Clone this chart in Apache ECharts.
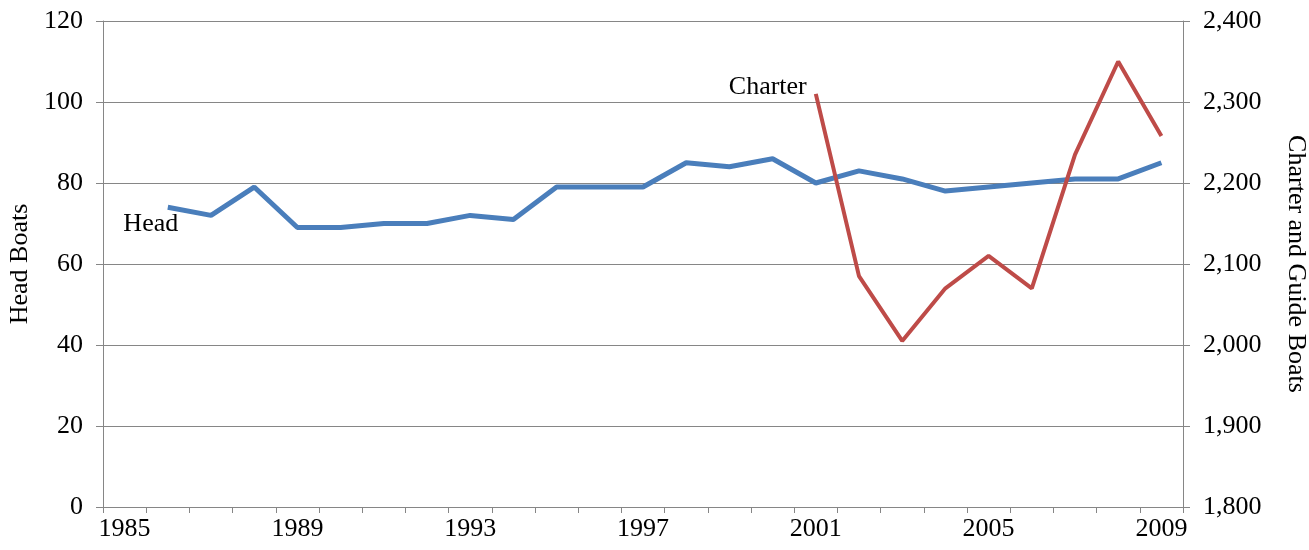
<!DOCTYPE html>
<html>
<head>
<meta charset="utf-8">
<script src="https://cdn.jsdelivr.net/npm/echarts@6/dist/echarts.min.js"></script>
<style>
  html, body { margin: 0; padding: 0; background: #fff; }
  #chart { width: 1309px; height: 550px; }
</style>
</head>
<body>
<div id="chart"></div>
<script>
const years = ["1985", "1986", "1987", "1988", "1989", "1990", "1991", "1992", "1993",
  "1994", "1995", "1996", "1997", "1998", "1999", "2000", "2001", "2002", "2003",
  "2004", "2005", "2006", "2007", "2008", "2009"];

// head boats (left axis)
const headBoats = [null, 74, 72, 79, 69, 69, 70, 70, 72, 71, 79, 79, 79, 85, 84, 86,
  80, 83, 81, 78, 79, 80, 81, 81, 85];

// charter and guide boats (right axis)
const charterBoats = [null, null, null, null, null, null, null, null, null, null, null,
  null, null, null, null, null, 2310, 2085, 2005, 2070, 2110, 2070, 2235, 2350, 2258];

const gray = "#868686";
const font = "Liberation Serif";
const fs = 26;

const chart = echarts.init(document.getElementById("chart"));

// invisible point carrying a series name label
function tag(text, offset) {
  return {
    symbol: "circle",
    symbolSize: 2,
    itemStyle: { color: "rgba(0,0,0,0)" },
    label: {
      show: true,
      position: "inside",
      formatter: text,
      color: "#000",
      fontSize: fs,
      fontFamily: font,
      offset: offset,
    },
  };
}

chart.setOption({
  animation: false,
  textStyle: { fontFamily: font },
  grid: { left: 103, right: 126, top: 21, bottom: 43, outerBoundsMode: "none" },
  xAxis: {
    type: "category",
    data: years,
    boundaryGap: true,
    axisLine: { lineStyle: { color: gray, width: 1 } },
    axisTick: { show: true, interval: 0, length: 6, lineStyle: { color: gray } },
    axisLabel: { interval: 3, color: "#000", fontSize: fs, fontFamily: font, margin: 9 },
    splitLine: { show: false },
  },
  yAxis: [
    {
      type: "value",
      min: 0,
      max: 120,
      interval: 20,
      name: "Head Boats",
      nameLocation: "middle",
      nameGap: 62,
      nameRotate: 90,
      nameTextStyle: { color: "#000", fontSize: fs, fontFamily: font },
      axisLine: { show: true, lineStyle: { color: gray } },
      axisTick: { show: true, length: 7, lineStyle: { color: gray } },
      axisLabel: { color: "#000", fontSize: fs, fontFamily: font, margin: 20 },
      splitLine: { lineStyle: { color: gray, width: 1 } },
    },
    {
      type: "value",
      min: 1800,
      max: 2400,
      interval: 100,
      position: "right",
      name: "Charter and Guide Boats",
      nameLocation: "middle",
      nameGap: 100,
      nameRotate: -90,
      nameTextStyle: { color: "#000", fontSize: fs, fontFamily: font },
      axisLine: { show: true, lineStyle: { color: gray } },
      axisTick: { show: true, length: 7, lineStyle: { color: gray } },
      axisLabel: {
        color: "#000",
        fontSize: fs,
        fontFamily: font,
        margin: 20,
        formatter: (v) => v.toLocaleString("en-US"),
      },
      splitLine: { show: false },
    },
  ],
  series: [
    {
      name: "Head",
      type: "line",
      yAxisIndex: 0,
      data: headBoats,
      showSymbol: false,
      symbol: "none",
      lineStyle: { color: "#4A7EBB", width: 5 },
      markPoint: Object.assign(tag("Head", [-17, 17]), {
        data: [{ coord: ["1986", headBoats[1]] }],
      }),
    },
    {
      name: "Charter",
      type: "line",
      yAxisIndex: 1,
      data: charterBoats,
      showSymbol: false,
      symbol: "none",
      lineStyle: { color: "#BE4B48", width: 4 },
      markPoint: Object.assign(tag("Charter", [-48, -7]), {
        data: [{ coord: ["2001", charterBoats[16]] }],
      }),
    },
  ],
});
</script>
</body>
</html>
